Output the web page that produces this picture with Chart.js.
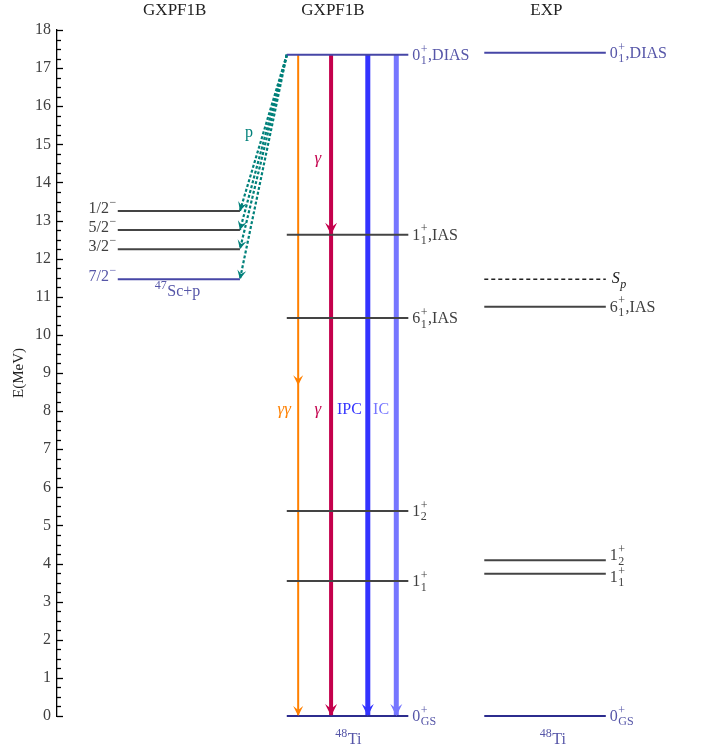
<!DOCTYPE html>
<html lang="en">
<head>
<meta charset="UTF-8">
<title>48Ti level scheme</title>
<script src="https://cdn.jsdelivr.net/npm/chart.js"></script>
<style>
  body { margin: 0; background: #fff; }
</style>
</head>
<body>
<canvas id="myChart" width="702" height="753"></canvas>
<script>
// energies in MeV
const scLevels = [13.25, 12.75, 12.25, 11.46];
const scLabels = ['1/2^{\u2212}', '5/2^{\u2212}', '3/2^{\u2212}', '7/2^{\u2212}'];

const calcLevels = [17.35, 12.63, 10.44, 5.38, 3.54, 0];
const calcLabels = ['0^{+}_{1},DIAS', '1^{+}_{1},IAS', '6^{+}_{1},IAS', '1^{+}_{2}', '1^{+}_{1}', '0^{+}_{GS}'];

const expLevels = [17.40, 10.74, 4.09, 3.73, 0];
const expLabels = ['0^{+}_{1},DIAS', '6^{+}_{1},IAS', '1^{+}_{2}', '1^{+}_{1}', '0^{+}_{GS}'];
const sepEnergy = 11.46;

const columnTitles = ['GXPF1B', 'GXPF1B', 'EXP'];
const yTicks = [0, 1, 2, 3, 4, 5, 6, 7, 8, 9, 10, 11, 12, 13, 14, 15, 16, 17, 18];

// decays out of the DIAS (from, to, intermediate arrow)
const decayNames = ['\u03b3\u03b3', '\u03b3', 'IPC', 'IC'];
const decayFrom = [17.35, 17.35, 17.35, 17.35];
const decayTo = [0, 0, 0, 0];
const decayMid = [8.68, 12.63, null, null];

// ---- layout / styling ----
const colSc = [9.6, 28.9], colCalc = [36.3, 55.5], colExp = [67.5, 86.7];
const decayX = [38.1, 43.3, 49.1, 53.6];
const decayColor = ['#ff8000', '#c4004c', '#3333ff', '#7676ff'];
const decayWidth = [2, 4, 5, 5];
const decayHead = [10, 12, 12, 12];
const blueLine = '#4646a6', navyLine = '#2c2c8e', greyLine = '#444444';
const blueText = '#5656a8', greyText = '#404040', teal = '#00807a';
const FONT = '"Liberation Serif", "DejaVu Serif", serif';

function lvl(x0, x1, e, color, extra) {
  return Object.assign({
    data: [{x: x0, y: e}, {x: x1, y: e}],
    showLine: true, pointRadius: 0, borderColor: color, borderWidth: 2, clip: false
  }, extra || {});
}

const datasets = [];
scLevels.forEach((e, i) => datasets.push(lvl(colSc[0], colSc[1], e, i === 3 ? blueLine : greyLine)));
calcLevels.forEach((e, i) => datasets.push(lvl(colCalc[0], colCalc[1], e, i === 0 ? blueLine : (e === 0 ? navyLine : greyLine))));
expLevels.forEach((e, i) => datasets.push(lvl(colExp[0], colExp[1], e, i === 0 ? blueLine : (e === 0 ? navyLine : greyLine))));
datasets.push(lvl(colExp[0], colExp[1], sepEnergy, '#222', {borderDash: [4, 3], borderWidth: 1.5}));
// proton emission lines
scLevels.forEach(e => datasets.push({
  data: [{x: colCalc[0], y: calcLevels[0]}, {x: colSc[1], y: e}],
  showLine: true, pointRadius: 0, borderColor: teal, borderWidth: 2.2, borderDash: [3, 2], clip: false
}));
// gamma / pair / conversion arrows
decayNames.forEach((n, i) => datasets.push({
  data: [{x: decayX[i], y: decayFrom[i]}, {x: decayX[i], y: decayTo[i]}],
  showLine: true, pointRadius: 0, borderColor: decayColor[i], borderWidth: decayWidth[i], clip: false
}));

// small rich text helper: a^{sup}_{sub}
function parseRich(s) {
  const parts = [];
  let i = 0, buf = '';
  while (i < s.length) {
    const c = s[i];
    if ((c === '^' || c === '_') && s[i + 1] === '{') {
      if (buf) { parts.push({t: buf, k: 'n'}); buf = ''; }
      const end = s.indexOf('}', i);
      parts.push({t: s.slice(i + 2, end), k: c === '^' ? 'sup' : 'sub'});
      i = end + 1;
    } else { buf += c; i++; }
  }
  if (buf) parts.push({t: buf, k: 'n'});
  return parts;
}

function drawRich(ctx, s, x, y, opt) {
  const size = opt.size || 16, small = Math.round(size * 0.72);
  const style = opt.italic ? 'italic ' : '';
  const parts = parseRich(s);
  let cur = 0, scriptStart = null, scriptW = 0;
  const placed = [];
  parts.forEach(p => {
    const f = style + (p.k === 'n' ? size : small) + 'px ' + FONT;
    ctx.font = f;
    const w = ctx.measureText(p.t).width;
    if (p.k === 'n') {
      if (scriptStart !== null) { cur = scriptStart + scriptW; scriptStart = null; }
      placed.push({t: p.t, f, x: cur, dy: 0});
      cur += w;
    } else {
      if (scriptStart === null) { scriptStart = cur; scriptW = 0; }
      placed.push({t: p.t, f, x: scriptStart + 0.5, dy: p.k === 'sup' ? -size * 0.4 : size * 0.33});
      scriptW = Math.max(scriptW, w + 1);
    }
  });
  if (scriptStart !== null) cur = scriptStart + scriptW;
  let x0 = x;
  if (opt.align === 'right') x0 = x - cur;
  if (opt.align === 'center') x0 = x - cur / 2;
  ctx.fillStyle = opt.color || greyText;
  ctx.textBaseline = 'middle';
  ctx.textAlign = 'left';
  placed.forEach(p => { ctx.font = p.f; ctx.fillText(p.t, x0 + p.x, y + p.dy); });
}

function arrowHead(ctx, px, py, ang, size, color) {
  ctx.save();
  ctx.translate(px, py);
  ctx.rotate(ang);
  ctx.fillStyle = color;
  ctx.beginPath();
  ctx.moveTo(0, 0);
  ctx.lineTo(-size, size * 0.5);
  ctx.lineTo(-size * 0.6, 0);
  ctx.lineTo(-size, -size * 0.5);
  ctx.closePath();
  ctx.fill();
  ctx.restore();
}

const levelScheme = {
  id: 'levelScheme',
  afterDatasetsDraw(chart) {
    const {ctx, scales: {x, y}} = chart;
    const X = v => x.getPixelForValue(v), Y = v => y.getPixelForValue(v);
    ctx.save();
    // inward ticks on the energy axis
    ctx.strokeStyle = '#000';
    ctx.lineWidth = 1.3;
    const left = chart.chartArea.left;
    for (let e = y.min; e <= y.max + 1e-6; e += 0.25) {
      const major = Math.abs(e - Math.round(e)) < 1e-6;
      const py = Math.round(Y(e)) + 0.5;
      ctx.beginPath();
      ctx.moveTo(left, py);
      ctx.lineTo(left + (major ? 6 : 4), py);
      ctx.stroke();
    }
    // arrow heads on decays
    decayNames.forEach((n, i) => {
      arrowHead(ctx, X(decayX[i]), Y(decayTo[i]), Math.PI / 2, decayHead[i], decayColor[i]);
      if (decayMid[i] !== null) arrowHead(ctx, X(decayX[i]), Y(decayMid[i]), Math.PI / 2, decayHead[i], decayColor[i]);
    });
    // proton arrow heads
    scLevels.forEach(e => {
      const x0 = X(colCalc[0]), y0 = Y(calcLevels[0]), x1 = X(colSc[1]), y1 = Y(e);
      arrowHead(ctx, x1, y1, Math.atan2(y1 - y0, x1 - x0), 9, teal);
    });
    // level labels
    scLevels.forEach((e, i) => drawRich(ctx, scLabels[i], X(colSc[0]) - 1, Y(e) - 2,
      {align: 'right', color: i === 3 ? blueText : greyText}));
    calcLevels.forEach((e, i) => drawRich(ctx, calcLabels[i], X(colCalc[1]) + 4, Y(e) + 1,
      {color: (i === 0 || e === 0) ? blueText : greyText}));
    expLevels.forEach((e, i) => {
      let yy = Y(e) + 1;
      if (expLabels[i] === '1^{+}_{2}') yy -= 5;
      if (expLabels[i] === '1^{+}_{1}') yy += 3;
      drawRich(ctx, expLabels[i], X(colExp[1]) + 4, yy, {color: (i === 0 || e === 0) ? blueText : greyText});
    });
    drawRich(ctx, 'S_{p}', X(colExp[1]) + 6, Y(sepEnergy), {italic: true, color: '#222'});
    // column titles and nuclei
    ctx.fillStyle = '#222';
    ctx.font = '17px ' + FONT;
    ctx.textAlign = 'center';
    ctx.textBaseline = 'middle';
    ctx.fillText(columnTitles[0], X(18.6), 11);
    ctx.fillText(columnTitles[1], X(43.6), 11);
    ctx.fillText(columnTitles[2], X(77.3), 11);
    drawRich(ctx, '^{47}Sc+p', X(19), Y(11.13), {align: 'center', color: blueText});
    drawRich(ctx, '^{48}Ti', X(46), Y(-0.63), {align: 'center', color: blueText});
    drawRich(ctx, '^{48}Ti', X(78.3), Y(-0.63), {align: 'center', color: blueText});
    // decay labels
    drawRich(ctx, 'p', X(29.7), Y(15.3), {color: teal});
    drawRich(ctx, '\u03b3', X(41.2), Y(14.64), {align: 'center', italic: true, size: 17, color: decayColor[1]});
    const labX = [35.9, 41.2, 46.2, 51.2];
    decayNames.forEach((n, i) => drawRich(ctx, n, X(labX[i]), Y(8.03),
      {align: 'center', italic: i < 2, size: i < 2 ? 17 : 16, color: decayColor[i]}));
    ctx.restore();
  }
};

new Chart(document.getElementById('myChart'), {
  type: 'scatter',
  data: {datasets},
  options: {
    responsive: false,
    animation: false,
    layout: {padding: {top: 30, bottom: 37, right: 12, left: 0}},
    plugins: {legend: {display: false}, tooltip: {enabled: false}},
    scales: {
      x: {type: 'linear', min: 0, max: 100, display: false},
      y: {
        type: 'linear', min: 0, max: 18,
        afterFit(scale) { scale.width = 57; },
        afterBuildTicks(scale) { scale.ticks = yTicks.map(v => ({value: v})); },
        grid: {drawOnChartArea: false, drawTicks: false},
        border: {display: true, color: '#000', width: 1.3},
        ticks: {padding: 6, color: greyText, font: {family: FONT, size: 16}},
        title: {display: true, text: 'E(MeV)', color: '#222', padding: {top: 10}, font: {family: FONT, size: 15}}
      }
    }
  },
  plugins: [levelScheme]
});
</script>
</body>
</html>
